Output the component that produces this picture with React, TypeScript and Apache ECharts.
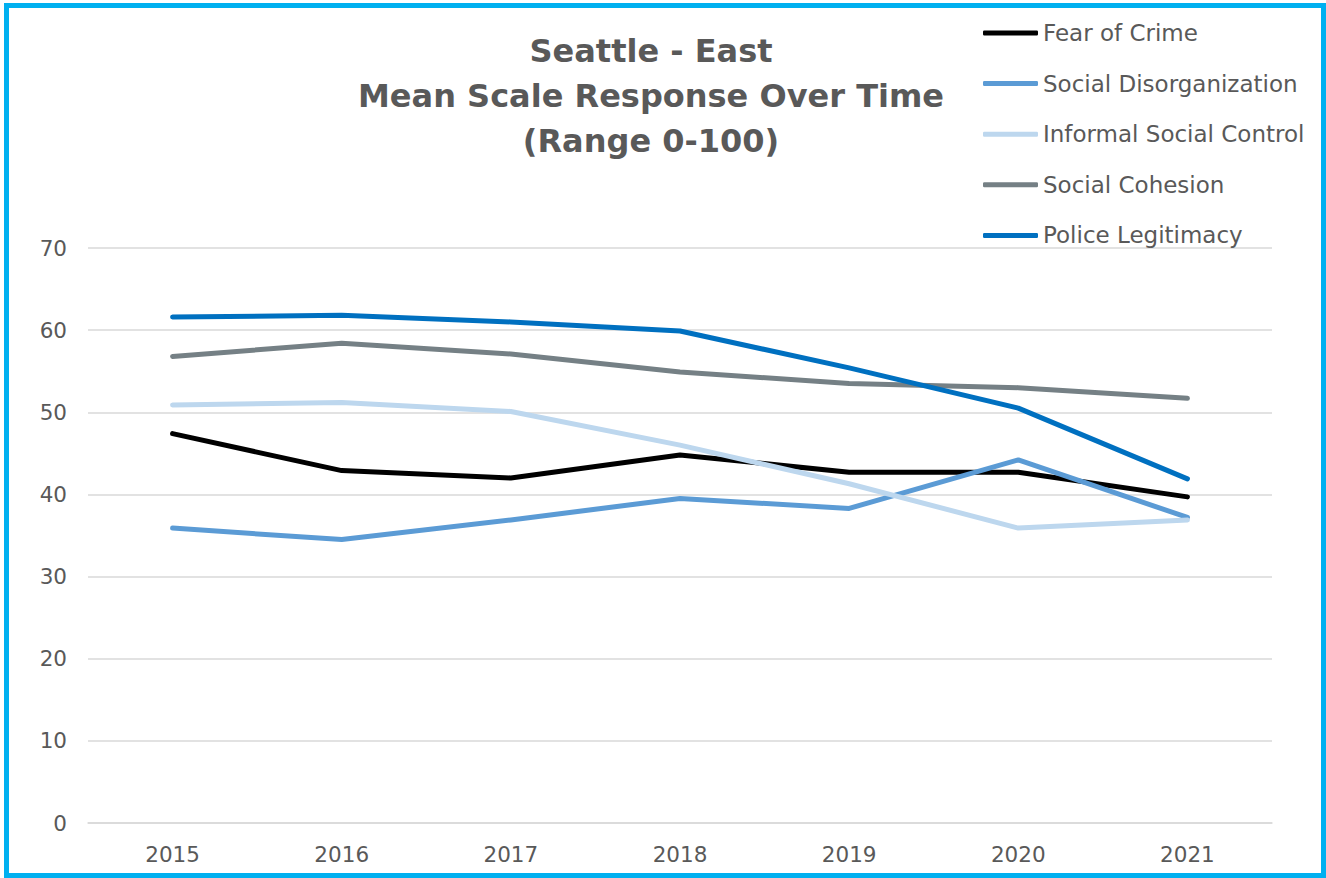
import React, { useEffect, useRef } from "react";
import * as echarts from "echarts";

const years = ["2015", "2016", "2017", "2018", "2019", "2020", "2021"];
const seriesNames = [
  "Fear of Crime",
  "Social Disorganization",
  "Informal Social Control",
  "Social Cohesion",
  "Police Legitimacy",
];
const fearOfCrime = [47.4, 42.9, 42.0, 44.8, 42.7, 42.7, 39.7];
const socialDisorganization = [35.9, 34.5, 36.9, 39.5, 38.3, 44.2, 37.2];
const informalSocialControl = [50.9, 51.2, 50.1, 46.0, 41.3, 35.9, 36.9];
const socialCohesion = [56.8, 58.4, 57.1, 54.9, 53.5, 53.0, 51.7];
const policeLegitimacy = [61.6, 61.8, 61.0, 59.9, 55.4, 50.5, 41.9];
const seriesColors = ["#000000", "#5B9BD5", "#BDD7EE", "#758085", "#0070C0"];
const titleLines = ["Seattle - East", "Mean Scale Response Over Time", "(Range 0-100)"];

const FONT = "DejaVu Sans";
const TEXT = "#595959";

export default function App() {
  const ref = useRef<HTMLDivElement>(null);
  useEffect(() => {
    if (!ref.current) return;
    const chart = echarts.init(ref.current, null, { renderer: "svg" });
    const values = [
      fearOfCrime,
      socialDisorganization,
      informalSocialControl,
      socialCohesion,
      policeLegitimacy,
    ];
    chart.setOption({
      animation: false,
      backgroundColor: "#ffffff",
      textStyle: { fontFamily: FONT },
      graphic: [
        {
          type: "rect",
          shape: { x: 6.5, y: 5.5, width: 1317, height: 870 },
          style: { fill: "none", stroke: "#00B0F0", lineWidth: 5 },
          silent: true,
        },
        {
          type: "text",
          x: 651,
          y: 28,
          style: {
            text: titleLines.join("\n"),
            fill: TEXT,
            font: `bold 32px "${FONT}"`,
            textAlign: "center",
            textVerticalAlign: "top",
            lineHeight: 45,
          },
        },
      ],
      legend: {
        orient: "vertical",
        left: 983,
        top: 20,
        padding: 0,
        itemGap: 24.6,
        itemWidth: 55,
        itemHeight: 5,
        icon: "roundRect",
        data: seriesNames,
        textStyle: {
          color: TEXT,
          fontFamily: FONT,
          fontSize: 23,
          lineHeight: 26,
        },
      },
      grid: { left: 88, right: 54, top: 248, bottom: 55 },
      xAxis: {
        type: "category",
        data: years,
        boundaryGap: true,
        axisLine: { show: true, lineStyle: { color: "#D9D9D9", width: 1.5 } },
        axisTick: { show: false },
        axisLabel: { color: TEXT, fontFamily: FONT, fontSize: 21.5, margin: 20 },
      },
      yAxis: {
        type: "value",
        min: 0,
        max: 70,
        interval: 10,
        axisLine: { show: false },
        axisTick: { show: false },
        axisLabel: { color: TEXT, fontFamily: FONT, fontSize: 21.5, margin: 21 },
        splitLine: { lineStyle: { color: "#D9D9D9", width: 1.5 } },
      },
      series: seriesNames.map((name, i) => ({
        name,
        type: "line",
        data: values[i],
        showSymbol: false,
        symbol: "none",
        color: seriesColors[i],
        lineStyle: { color: seriesColors[i], width: 5, cap: "round", join: "round" },
      })),
    });
    return () => chart.dispose();
  }, []);
  return (
    <div
      ref={ref}
      style={{ position: "fixed", left: 0, top: 0, width: 1326, height: 878 }}
    />
  );
}
